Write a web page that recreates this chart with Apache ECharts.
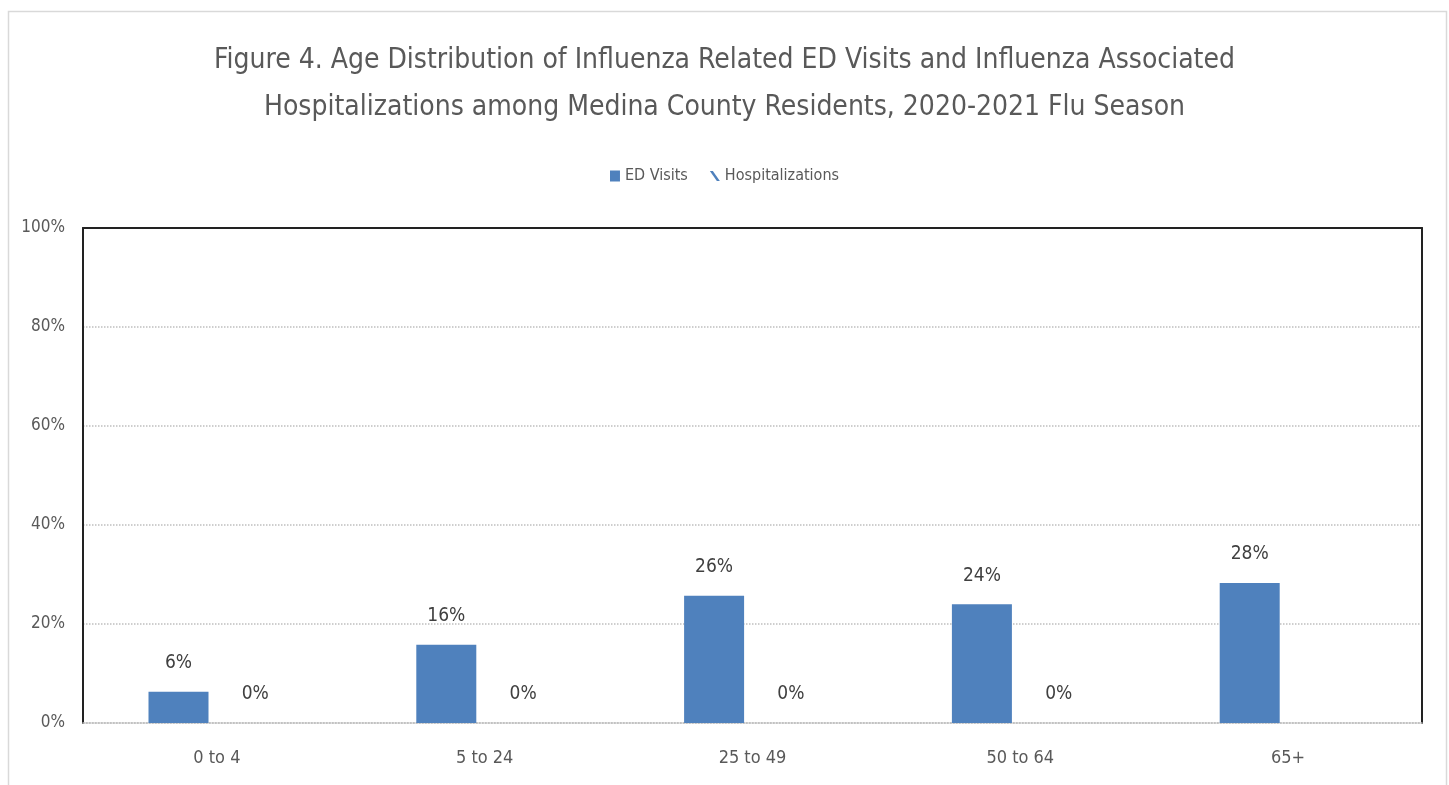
<!DOCTYPE html>
<html>
<head>
<meta charset="utf-8">
<script src="https://cdn.jsdelivr.net/npm/echarts@6/dist/echarts.min.js"></script>
<style>
html,body{margin:0;padding:0;background:#fff;}
#chart{width:1449px;height:785px;}
</style>
</head>
<body>
<div id="chart"></div>
<script>
const categories = ['0 to 4', '5 to 24', '25 to 49', '50 to 64', '65+'];
const edVisits = [6.3, 15.8, 25.7, 24.0, 28.3];
const hospitalizations = [0, 0, 0, 0, null];
const yTicks = [0, 20, 40, 60, 80, 100];
const titleText = 'Figure 4. Age Distribution of Influenza Related ED Visits and Influenza Associated\nHospitalizations among Medina County Residents, 2020-2021 Flu Season';

const FONT = '"Liberation Sans Narrow", "DejaVu Sans Condensed", "Open Sans", sans-serif';
const chart = echarts.init(document.getElementById('chart'), null, {renderer: 'canvas'});
const option = {
  backgroundColor: '#fff',
  animation: false,
  textStyle: {fontFamily: FONT},
  graphic: [{
    type: 'rect', left: 6, top: 9, silent: true,
    shape: {width: 1438, height: 790},
    style: {fill: 'none', stroke: '#d9d9d9', lineWidth: 1.5}
  }],
  title: {
    text: titleText,
    left: 'center', top: 32,
    textStyle: {fontFamily: FONT, fontSize: 28, fontWeight: 'normal', color: '#595959', lineHeight: 47}
  },
  legend: {
    top: 163, left: 'center',
    itemWidth: 10, itemHeight: 11, itemGap: 22,
    textStyle: {fontFamily: FONT, fontSize: 16, color: '#595959'},
    data: [
      {name: 'ED Visits', icon: 'rect'},
      {name: 'Hospitalizations', icon: 'path://M0,0 L3,0 L10,10 L7,10 Z', itemStyle: {color: '#4f81bd'}}
    ]
  },
  grid: {left: 83, right: 27, top: 228, bottom: 62, containLabel: false},
  xAxis: [{
    type: 'category', data: categories,
    axisLine: {show: true, onZero: false, lineStyle: {color: '#bfbfbf', type: 'dotted', width: 1.5}},
    axisTick: {show: false},
    axisLabel: {fontFamily: FONT, fontSize: 18, color: '#595959', margin: 26}
  }, {
    type: 'category', data: categories, position: 'top',
    axisLine: {show: true, onZero: false, lineStyle: {color: '#222', width: 2}},
    axisTick: {show: false}, axisLabel: {show: false}
  }],
  yAxis: [{
    type: 'value', min: 0, max: 100, interval: 20,
    axisLine: {show: true, lineStyle: {color: '#222', width: 2}},
    axisTick: {show: false},
    splitLine: {show: true, lineStyle: {color: '#bfbfbf', type: 'dotted', width: 1.5}},
    axisLabel: {fontFamily: FONT, fontSize: 17, color: '#595959', margin: 18,
      formatter: function (v) { return yTicks.indexOf(v) >= 0 ? v + '%' : ''; }}
  }, {
    type: 'value', min: 0, max: 100, interval: 20, position: 'right',
    axisLine: {show: true, lineStyle: {color: '#222', width: 2}},
    axisTick: {show: false}, axisLabel: {show: false}, splitLine: {show: false}
  }],
  series: [{
    name: 'ED Visits', type: 'bar', data: edVisits,
    barWidth: 60, barGap: '28%',
    itemStyle: {color: '#4f81bd'},
    label: {show: true, position: 'top', distance: 19, fontFamily: FONT, fontSize: 19, color: '#404040',
      formatter: function (p) { return Math.round(p.value) + '%'; }}
  }, {
    name: 'Hospitalizations', type: 'bar', data: hospitalizations,
    barWidth: 60,
    itemStyle: {color: '#4f81bd'},
    label: {show: true, position: 'top', distance: 19, fontFamily: FONT, fontSize: 19, color: '#404040',
      formatter: function (p) { return p.value == null ? '' : Math.round(p.value) + '%'; }}
  }]
};
chart.setOption(option);
</script>
</body>
</html>
